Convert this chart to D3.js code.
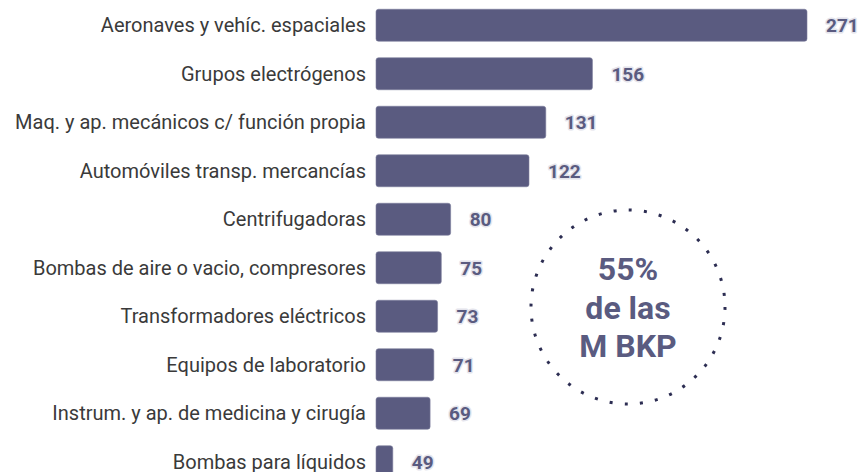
<!DOCTYPE html>
<html>
<head>
<meta charset="utf-8">
<script src="https://cdn.jsdelivr.net/npm/d3@7"></script>
<style>
  html, body { margin: 0; padding: 0; background: #fff; }
  svg { display: block; font-family: Roboto, "Noto Sans", sans-serif; }
</style>
</head>
<body>
<div id="chart"></div>
<script>
// data
const categories = [
    "Aeronaves y vehíc. espaciales",
    "Grupos electrógenos",
    "Maq. y ap. mecánicos c/ función propia",
    "Automóviles transp. mercancías",
    "Centrifugadoras",
    "Bombas de aire o vacio, compresores",
    "Transformadores eléctricos",
    "Equipos de laboratorio",
    "Instrum. y ap. de medicina y cirugía",
    "Bombas para líquidos"
];
const values = [271, 156, 131, 122, 80, 75, 73, 71, 69, 49];
const calloutLines = ["55%", "de las", "M BKP"];

const width = 860;
const height = 472;
const barColor = "#5a5b80";
const labelColor = "#5a5b80";

const svg = d3.select("#chart")
    .append("svg")
    .attr("width", width)
    .attr("height", height);

// scales (axis starts at 40, not 0)
const x = d3.scaleLinear()
    .domain([40, 271])
    .range([376, 807]);

const y = d3.scaleBand()
    .domain(categories)
    .range([1, 486])
    .paddingInner(16.5 / 48.5)
    .paddingOuter(8.25 / 48.5);

const data = categories.map((c, i) => ({ name: c, value: values[i] }));

// bars
svg.selectAll("rect.bar")
    .data(data)
    .join("rect")
    .attr("class", "bar")
    .attr("x", x(40))
    .attr("y", d => y(d.name))
    .attr("width", d => x(d.value) - x(40))
    .attr("height", y.bandwidth())
    .attr("rx", 2.5)
    .attr("fill", barColor)
    .attr("stroke", "#7c7d9c")
    .attr("stroke-width", 0.6);

// category labels
svg.selectAll("text.cat")
    .data(data)
    .join("text")
    .attr("class", "cat")
    .attr("x", x(40) - 10)
    .attr("y", d => y(d.name) + y.bandwidth() / 2)
    .attr("dy", "0.35em")
    .attr("text-anchor", "end")
    .attr("fill", "#3a3a3a")
    .style("font-size", "20px")
    .text(d => d.name);

// value labels with light halo
svg.selectAll("text.val")
    .data(data)
    .join("text")
    .attr("class", "val")
    .attr("x", d => x(d.value) + 19)
    .attr("y", d => y(d.name) + y.bandwidth() / 2)
    .attr("dy", "0.36em")
    .attr("fill", labelColor)
    .attr("stroke", "#e4e4ec")
    .attr("stroke-width", 3)
    .attr("stroke-linejoin", "round")
    .style("paint-order", "stroke")
    .style("font-size", "19px")
    .style("font-weight", "bold")
    .text(d => d.value);

// dotted circle callout
const cx = 628, cy = 307, r = 97;
const circ = 2 * Math.PI * r;
const nDots = 40;
svg.append("circle")
    .attr("cx", cx)
    .attr("cy", cy)
    .attr("r", r)
    .attr("fill", "none")
    .attr("stroke", "#2c2d52")
    .attr("stroke-width", 3)
    .attr("stroke-dasharray", `3 ${circ / nDots - 3}`);

svg.selectAll("text.callout")
    .data(calloutLines)
    .join("text")
    .attr("class", "callout")
    .attr("x", cx)
    .attr("y", (d, i) => 280 + i * 38.5)
    .attr("text-anchor", "middle")
    .attr("fill", labelColor)
    .style("font-size", "32px")
    .style("font-weight", "bold")
    .text(d => d);
</script>
</body>
</html>
